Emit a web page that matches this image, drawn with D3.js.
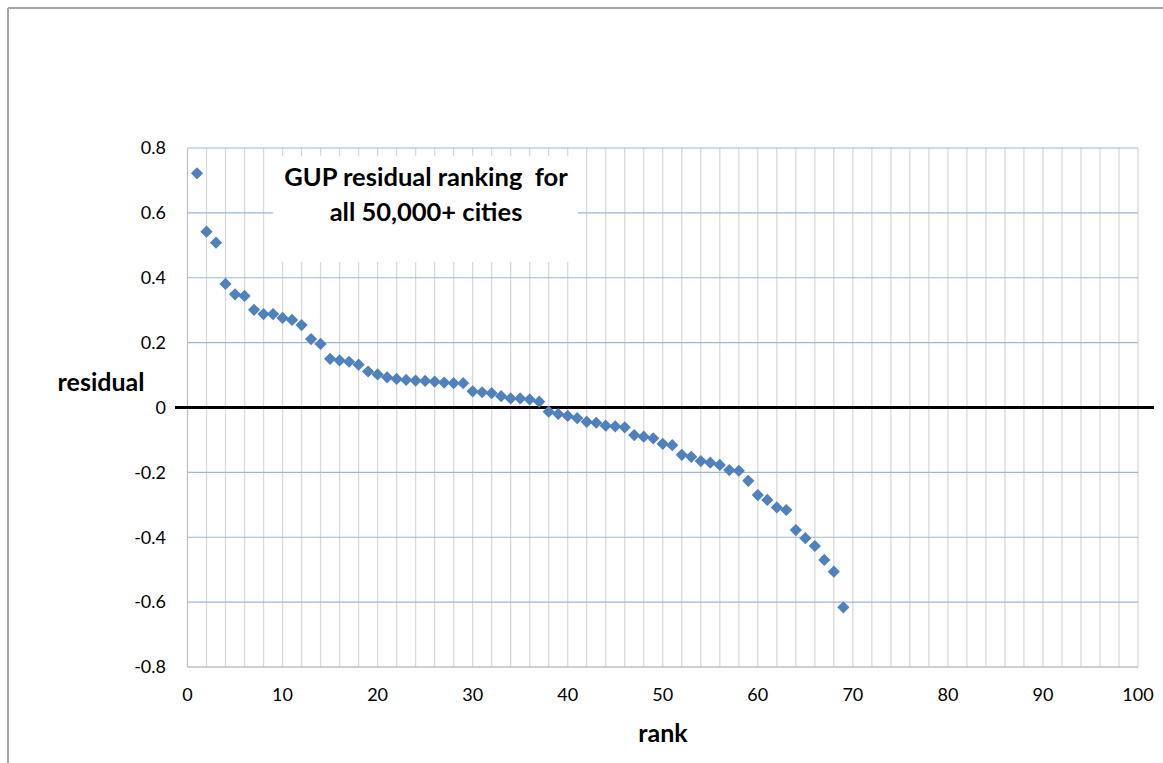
<!DOCTYPE html>
<html>
<head>
<meta charset="utf-8">
<script src="https://cdn.jsdelivr.net/npm/d3@7"></script>
<style>
  html, body { margin: 0; padding: 0; background: #fff; }
  svg { display: block; font-family: Lato, "Open Sans", sans-serif; }
</style>
</head>
<body>
<svg id="chart" width="1163" height="763"></svg>
<script>
// ---- data ----
const ranks = d3.range(1, 70);
const residuals = [
  0.722, 0.542, 0.508, 0.381, 0.349, 0.344, 0.301, 0.288, 0.288, 0.276,
  0.270, 0.254, 0.211, 0.196, 0.150, 0.145, 0.141, 0.132, 0.111, 0.102,
  0.093, 0.088, 0.085, 0.083, 0.082, 0.080, 0.077, 0.075, 0.075, 0.050,
  0.047, 0.044, 0.035, 0.028, 0.028, 0.025, 0.018, -0.013, -0.020, -0.026,
  -0.033, -0.044, -0.047, -0.056, -0.058, -0.061, -0.085, -0.090, -0.095, -0.112,
  -0.116, -0.146, -0.152, -0.165, -0.170, -0.177, -0.193, -0.195, -0.226, -0.270,
  -0.285, -0.308, -0.316, -0.378, -0.403, -0.427, -0.470, -0.506, -0.616
];
const xTicks = [0, 10, 20, 30, 40, 50, 60, 70, 80, 90, 100];
const yTicks = [-0.8, -0.6, -0.4, -0.2, 0, 0.2, 0.4, 0.6, 0.8];
const yTickLabels = ["-0.8", "-0.6", "-0.4", "-0.2", "0", "0.2", "0.4", "0.6", "0.8"];
const titleLines = ["GUP residual ranking\u00a0 for", "all 50,000+ cities"];
const xLabel = "rank";
const yLabel = "residual";

// ---- layout ----
const svg = d3.select("#chart");
const L = 187.5, R = 1138, T = 148, B = 667;
const x = d3.scaleLinear().domain([0, 100]).range([L, R]);
const y = d3.scaleLinear().domain([-0.8, 0.8]).range([B, T]);

// outer frame (top and left edges visible)
svg.append("line").attr("x1", 8).attr("x2", 1163).attr("y1", 8).attr("y2", 8)
  .attr("stroke", "#a6a6a6").attr("stroke-width", 2);
svg.append("line").attr("x1", 8).attr("x2", 8).attr("y1", 8).attr("y2", 763)
  .attr("stroke", "#a6a6a6").attr("stroke-width", 2);

// vertical gridlines every 2
const vg = d3.range(2, 101, 2);
svg.append("g").selectAll("line").data(vg).join("line")
  .attr("x1", d => x(d)).attr("x2", d => x(d))
  .attr("y1", T).attr("y2", B)
  .attr("stroke", "#d9d9d9").attr("stroke-width", 1.3);

// horizontal gridlines
svg.append("g").selectAll("line").data(yTicks.filter(d => d !== -0.8 && d !== 0)).join("line")
  .attr("x1", L).attr("x2", R)
  .attr("y1", d => y(d)).attr("y2", d => y(d))
  .attr("stroke", "#9fb6dc").attr("stroke-width", 1.2);

// axis frame lines (left and bottom)
svg.append("line").attr("x1", L).attr("x2", L).attr("y1", T).attr("y2", B)
  .attr("stroke", "#bfbfbf").attr("stroke-width", 1.3);
svg.append("line").attr("x1", L).attr("x2", R).attr("y1", B).attr("y2", B)
  .attr("stroke", "#bfbfbf").attr("stroke-width", 1.3);

// title box (white background)
svg.append("rect").attr("x", 273).attr("y", 156).attr("width", 305).attr("height", 106)
  .attr("fill", "#fff");
svg.append("g").selectAll("text").data(titleLines).join("text")
  .attr("x", 426).attr("y", (d, i) => 186 + i * 35)
  .attr("text-anchor", "middle")
  .attr("font-size", 25.5).attr("font-weight", "bold").attr("fill", "#000")
  .text(d => d);

// zero line
svg.append("line").attr("x1", 175).attr("x2", 1154)
  .attr("y1", y(0)).attr("y2", y(0))
  .attr("stroke", "#000").attr("stroke-width", 3.2);

// y tick labels
svg.append("g").selectAll("text").data(yTicks).join("text")
  .attr("x", 166).attr("y", d => y(d))
  .attr("dy", "0.35em")
  .attr("text-anchor", "end")
  .attr("font-size", 18).attr("fill", "#000")
  .text((d, i) => yTickLabels[i]);

// x tick labels
svg.append("g").selectAll("text").data(xTicks).join("text")
  .attr("x", d => x(d)).attr("y", 695)
  .attr("dy", "0.35em")
  .attr("text-anchor", "middle")
  .attr("font-size", 18).attr("fill", "#000")
  .text(d => d);

// axis titles
svg.append("text").attr("x", 101).attr("y", 382).attr("dy", "0.35em")
  .attr("text-anchor", "middle").attr("font-size", 25).attr("font-weight", "bold")
  .text(yLabel);
svg.append("text").attr("x", 663).attr("y", 733).attr("dy", "0.35em")
  .attr("text-anchor", "middle").attr("font-size", 25).attr("font-weight", "bold")
  .text(xLabel);

// points (diamonds)
const sym = d3.symbol().type(d3.symbolDiamond2).size(95);
svg.append("g").selectAll("path").data(ranks.map((r, i) => [r, residuals[i]])).join("path")
  .attr("d", sym)
  .attr("transform", d => `translate(${x(d[0])},${y(d[1])})`)
  .attr("fill", "#4f81bd");
</script>
</body>
</html>
